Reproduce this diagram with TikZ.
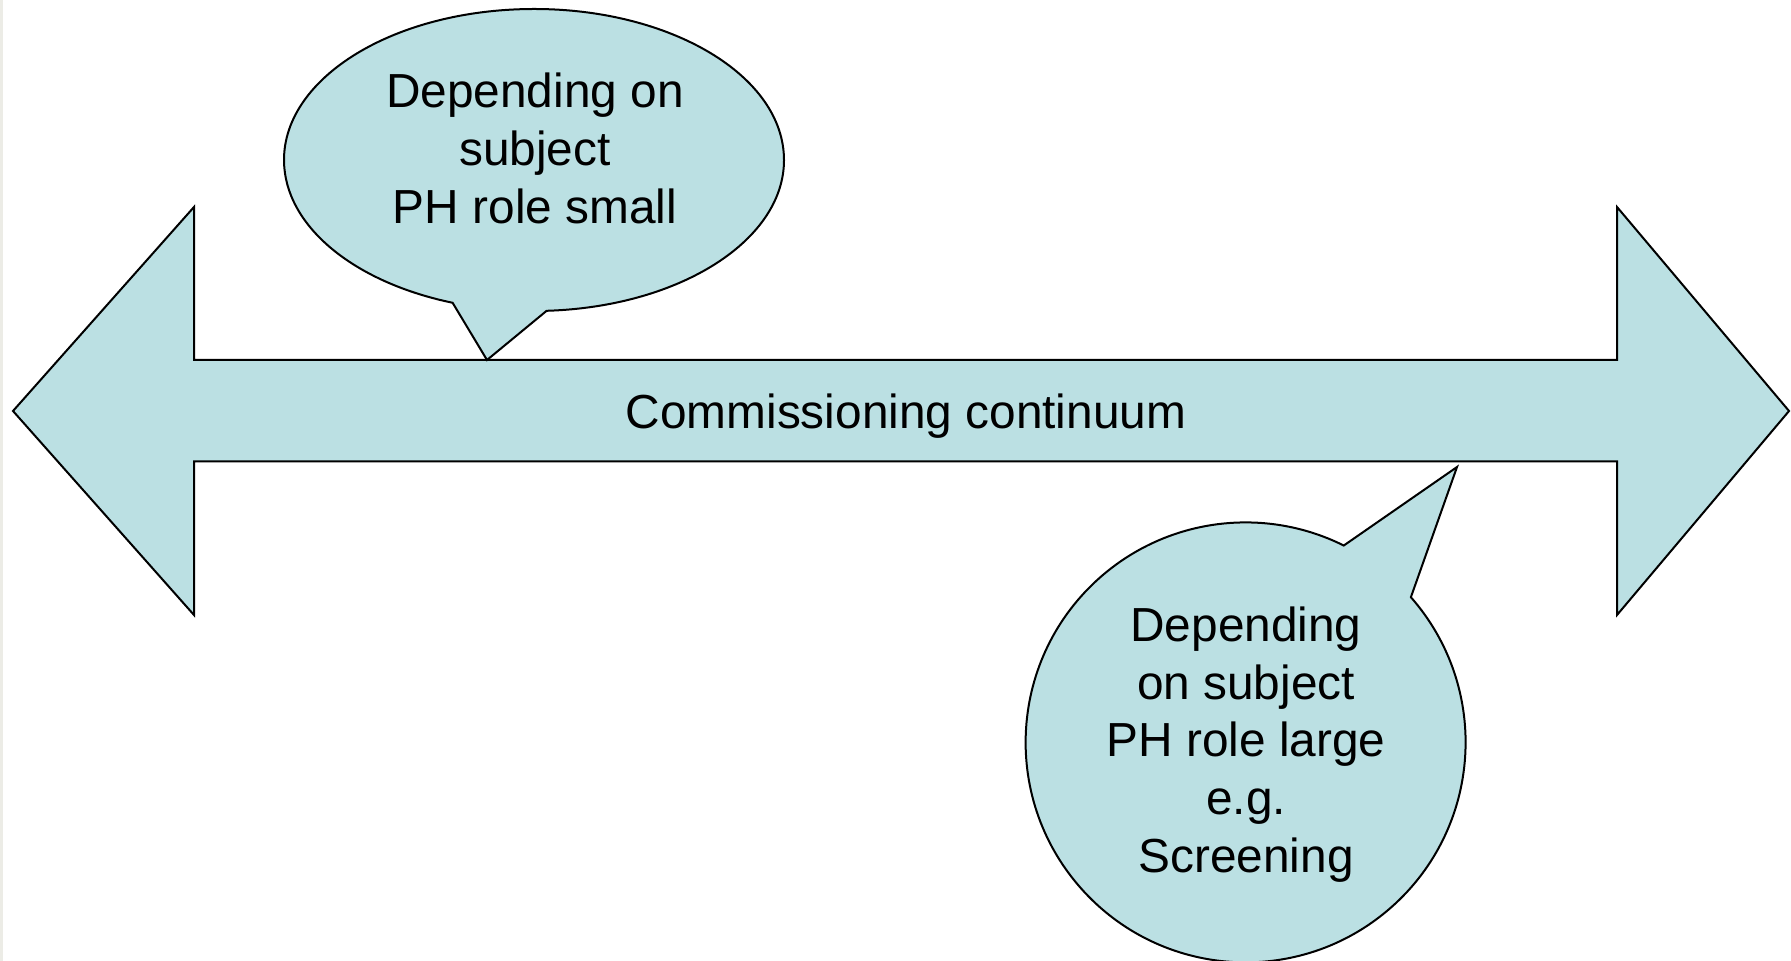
\documentclass[tikz,border=0pt]{standalone}
\usepackage{fontspec}
\setmainfont{Liberation Sans}
\usepackage{xcolor}
\definecolor{calloutfill}{HTML}{BBE0E3}
\definecolor{edgegray}{RGB}{236,236,230}

\begin{document}
\begin{tikzpicture}[x=0.5pt, y=-0.5pt, line join=miter,
    shapefill/.style={draw, fill=calloutfill, line width=1pt},
    txt/.style={align=center, font=\fontsize{23.9}{28.8}\selectfont, inner sep=0pt}]
    \useasboundingbox (0,0) rectangle (1791,961);
    \draw[edgegray, line width=1.5pt] (1.5,0) -- (1.5,961);

    % Double-headed arrow for the continuum
    \draw[shapefill] (13,411) -- (194,207) -- (194,360) -- (1617,360) -- (1617,207) -- (1789,411)
        -- (1617,615) -- (1617,461.5) -- (194,461.5) -- (194,615) -- cycle;
    \node[txt] (CC) at (906,416) {Commissioning continuum};

    % Callouts above and below the arrow
    \draw[shapefill] (534,160) ++(87.1:250 and 151)
        arc[start angle=87.1, end angle=-251, x radius=250, y radius=151] -- (487,360) -- cycle;
    \draw[shapefill] (1245.6,742.4) ++(-41.3:220)
        arc[start angle=-41.3, end angle=296.5, radius=220] -- (1457,467) -- cycle;

    % Callout texts
    \node[txt] (SMALL) at (535,148.5) {Depending on\\subject\\PH role small};
    \node[txt] (LARGE) at (1246,744.5) {Depending\\on subject\\PH role large\\e.g.\\Screening};
\end{tikzpicture}
\end{document}
